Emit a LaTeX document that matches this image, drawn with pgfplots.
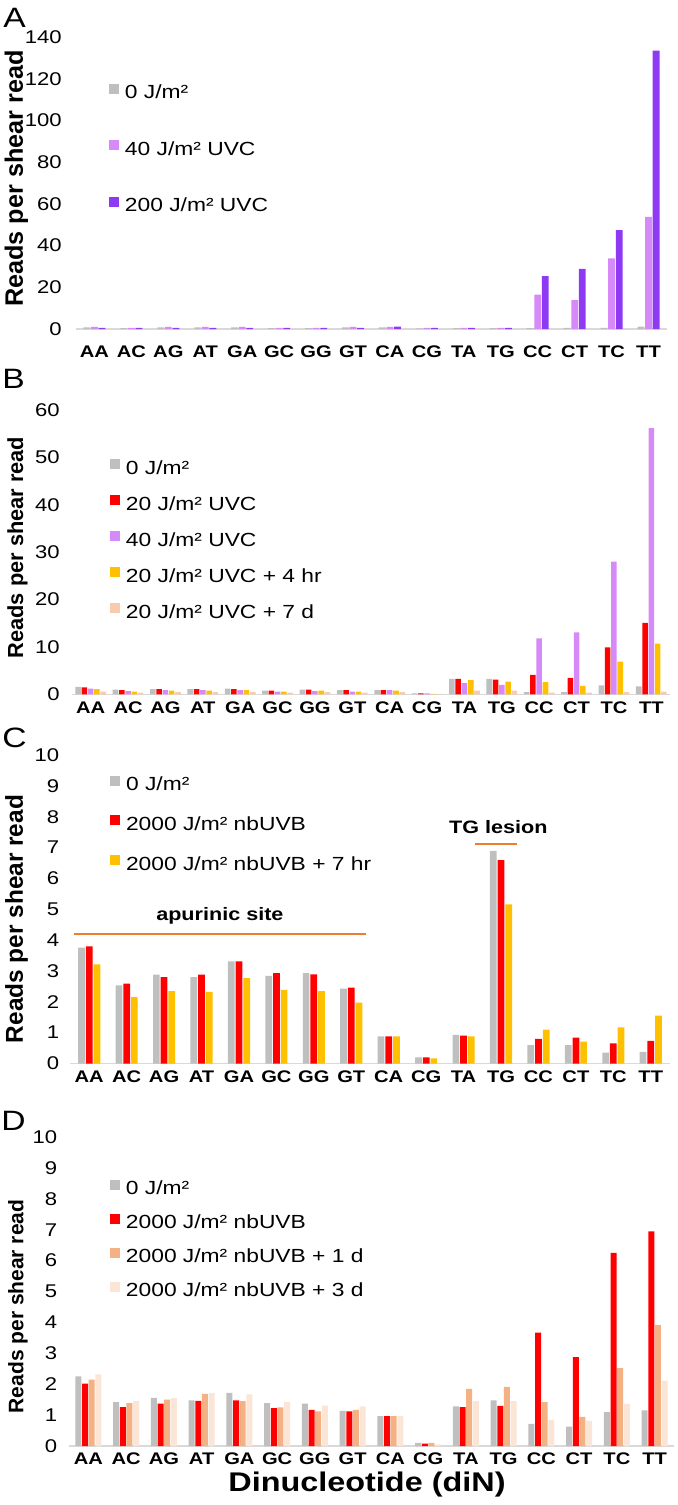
\documentclass[border=0pt]{standalone}
\usepackage{fontspec}
\setmainfont{Liberation Sans}[FakeStretch=1.2]
\newfontfamily\rotfont{Liberation Sans}
\usepackage{pgfplots}
\usepackage{pgfplotstable}
\pgfplotsset{compat=1.18}
\definecolor{cgray}{HTML}{BFBFBF}
\definecolor{clpur}{HTML}{D68AF8}
\definecolor{cdpur}{HTML}{8D3AF2}
\definecolor{cred}{HTML}{FF0000}
\definecolor{cgold}{HTML}{FFC000}
\definecolor{cpeach}{HTML}{F8CBAD}
\definecolor{corange}{HTML}{F4B183}
\definecolor{clight}{HTML}{FBE5D6}
\definecolor{cline}{HTML}{ED7D31}
\definecolor{caxis}{HTML}{D9D9D9}

\pgfplotstableread{
i g l d
0 0.8 1.0 0.6
1 0.4 0.5 0.6
2 0.8 1.0 0.6
3 0.8 1.0 0.6
4 0.8 1.0 0.6
5 0.4 0.5 0.6
6 0.4 0.5 0.6
7 0.8 1.0 0.6
8 0.8 1.0 1.2
9 0.3 0.5 0.6
10 0.4 0.5 0.6
11 0.4 0.5 0.6
12 0.4 16.5 25.4
13 0.5 13.9 28.8
14 0.5 33.9 47.4
15 1.2 53.8 133.5
}\dataA
\pgfplotstableread{
i g r p o s
0 1.6 1.5 1.2 1.1 0.6
1 1.0 0.9 0.7 0.6 0.4
2 1.1 1.1 0.9 0.8 0.5
3 1.1 1.1 0.9 0.8 0.5
4 1.2 1.1 0.9 0.9 0.5
5 0.8 0.8 0.6 0.6 0.4
6 1.0 1.0 0.7 0.8 0.5
7 0.9 0.9 0.6 0.6 0.4
8 0.9 0.9 0.9 0.8 0.5
9 0.2 0.2 0.2 0.1 0.1
10 3.3 3.3 2.4 3.0 0.8
11 3.3 3.1 2.0 2.7 0.8
12 0.5 4.1 11.8 2.6 0.4
13 0.5 3.5 13.1 1.8 0.4
14 1.9 9.9 28.0 6.9 0.5
15 1.7 15.1 56.2 10.7 0.6
}\dataB
\pgfplotstableread{
i g r o
0 3.76 3.80 3.21
1 2.53 2.59 2.15
2 2.88 2.80 2.35
3 2.80 2.88 2.32
4 3.31 3.31 2.77
5 2.84 2.93 2.39
6 2.93 2.89 2.35
7 2.43 2.46 1.97
8 0.88 0.88 0.88
9 0.20 0.20 0.17
10 0.93 0.90 0.88
11 6.89 6.59 5.16
12 0.60 0.80 1.10
13 0.60 0.84 0.71
14 0.35 0.65 1.17
15 0.38 0.73 1.55
}\dataC
\pgfplotstableread{
i g r o l
0 2.25 2.02 2.15 2.32
1 1.42 1.26 1.39 1.45
2 1.56 1.37 1.50 1.55
3 1.48 1.46 1.69 1.71
4 1.72 1.48 1.45 1.67
5 1.39 1.23 1.25 1.42
6 1.37 1.17 1.12 1.31
7 1.14 1.12 1.17 1.28
8 0.97 0.97 0.97 0.97
9 0.10 0.08 0.10 0.05
10 1.28 1.26 1.85 1.45
11 1.48 1.30 1.91 1.45
12 0.72 3.67 1.42 0.85
13 0.63 2.88 0.94 0.81
14 1.10 6.25 2.52 1.36
15 1.15 6.95 3.91 2.12
}\dataD

\pgfplotsset{
 sqlegend/.style={legend image code/.code={\fill[##1] (0pt,0pt) rectangle (5pt,5pt); \path (8pt,2.5pt);}},
 panel/.style={
  scale only axis, ybar, clip=false,
  axis line style={draw=none},
  major tick length=0pt,
  tick style={draw=none},
  xmin=-0.5, xmax=15.5, ymin=0,
  xtick={0,...,15},
  xticklabels={AA,AC,AG,AT,GA,GC,GG,GT,CA,CG,TA,TG,CC,CT,TC,TT},
  /pgf/number format/assume math mode=true,
  yticklabel style={font=\fontsize{9.2}{9.2}\selectfont, anchor=east, inner sep=0pt},
  xticklabel style={font=\fontsize{8.4}{8.4}\selectfont\bfseries, anchor=base, inner sep=0pt},
  ylabel={Reads per shear read},
  ylabel style={anchor=base},
  legend cell align=left,
  legend style={draw=none, fill=none, anchor=north west, font=\fontsize{9.5}{9.5}\selectfont,
     inner sep=0pt, outer sep=0pt, nodes={inner sep=0pt, text height=6.5pt, text depth=1.5pt}},
  every axis plot post/.append style={sqlegend},
 },
}

\begin{document}
\begin{tikzpicture}
\useasboundingbox (0,0) rectangle (338.5pt,-752.5pt);
% Panel letters
\node[anchor=base west, inner sep=0pt, font=\fontsize{14}{14}\selectfont] at (1.5pt,-13.5pt) {A};
\node[anchor=base west, inner sep=0pt, font=\fontsize{14}{14}\selectfont] at (1pt,-194pt) {B};
\node[anchor=base west, inner sep=0pt, font=\fontsize{14}{14}\selectfont] at (1pt,-373.5pt) {C};
\node[anchor=base west, inner sep=0pt, font=\fontsize{14}{14}\selectfont] at (0.5pt,-565pt) {D};

% Panel A
\begin{axis}[panel, at={(38pt,-164.5pt)}, anchor=south west,
  width=295.5pt, height=146pt, ymax=140, ytick={0,20,...,140},
  bar width=3.4pt, ybar=0.4pt,
  yticklabel style={xshift=-7pt},
  xticklabel style={yshift=-14.3pt},
  ylabel style={at={(rel axis cs:-0.0897,0.5154)}, font=\rotfont\bfseries\fontsize{12.6}{12.6}\selectfont},
  legend style={at={(rel axis cs:0.0558,0.840)}, row sep=19.25pt}]
\draw[caxis, line width=0.75pt] (rel axis cs:0,0) -- (rel axis cs:1,0);
\addplot[fill=cgray, draw=none] table[x=i,y=g] {\dataA};
\addplot[fill=clpur, draw=none] table[x=i,y=l] {\dataA};
\addplot[fill=cdpur, draw=none] table[x=i,y=d] {\dataA};
\legend{0 J/m², 40 J/m² UVC, 200 J/m² UVC}
\end{axis}

% Panel B
\begin{axis}[panel, at={(36pt,-347.2pt)}, anchor=south west,
  width=299pt, height=142.2pt, ymax=60, ytick={0,10,...,60},
  bar width=2.8pt, ybar=0.33pt,
  yticklabel style={xshift=-6pt},
  xticklabel style={yshift=-9.6pt},
  ylabel style={at={(rel axis cs:-0.0819,0.5165)}, font=\rotfont\bfseries\fontsize{10.9}{10.9}\selectfont},
  legend style={at={(rel axis cs:0.0635,0.8277)}, row sep=9.0pt}]
\draw[caxis, line width=0.75pt] (rel axis cs:0,0) -- (rel axis cs:1,0);
\addplot[fill=cgray, draw=none] table[x=i,y=g] {\dataB};
\addplot[fill=cred, draw=none] table[x=i,y=r] {\dataB};
\addplot[fill=clpur, draw=none] table[x=i,y=p] {\dataB};
\addplot[fill=cgold, draw=none] table[x=i,y=o] {\dataB};
\addplot[fill=cpeach, draw=none] table[x=i,y=s] {\dataB};
\legend{0 J/m², 20 J/m² UVC, 40 J/m² UVC, 20 J/m² UVC + 4 hr, 20 J/m² UVC + 7 d}
\end{axis}

% Panel C
\begin{axis}[panel, at={(35.25pt,-531.75pt)}, anchor=south west,
  width=299.5pt, height=154.25pt, ymax=10, ytick={0,1,...,10},
  bar width=3.35pt, ybar=0.5pt,
  yticklabel style={xshift=-5.5pt},
  xticklabel style={yshift=-9.55pt},
  ylabel style={at={(rel axis cs:-0.0793,0.4684)}, font=\rotfont\bfseries\fontsize{12.2}{12.2}\selectfont},
  legend style={at={(rel axis cs:0.066,0.9335)}, row sep=10.95pt}]
\draw[caxis, line width=0.75pt] (rel axis cs:0,0) -- (rel axis cs:1,0);
\addplot[fill=cgray, draw=none] table[x=i,y=g] {\dataC};
\addplot[fill=cred, draw=none] table[x=i,y=r] {\dataC};
\addplot[fill=cgold, draw=none] table[x=i,y=o] {\dataC};
\legend{0 J/m², 2000 J/m² nbUVB, 2000 J/m² nbUVB + 7 hr}
\draw[cline, line width=0.9pt] (axis cs:-0.41,4.2) -- (axis cs:7.39,4.2);
\node[font=\bfseries\fontsize{9}{9}\selectfont] at (axis cs:3.49,4.78) {apurinic site};
\draw[cline, line width=0.9pt] (axis cs:10.3,7.11) -- (axis cs:11.43,7.11);
\node[font=\bfseries\fontsize{9}{9}\selectfont] at (axis cs:10.93,7.67) {TG lesion};
\end{axis}

% Panel D
\begin{axis}[panel, at={(34.75pt,-723pt)}, anchor=south west,
  width=302pt, height=154.5pt, ymax=10, ytick={0,1,...,10},
  bar width=3pt, ybar=0.33pt,
  yticklabel style={xshift=-6pt},
  xticklabel style={yshift=-9.3pt},
  ylabel style={at={(rel axis cs:-0.0765,0.4515)}, font=\rotfont\bfseries\fontsize{10.5}{10.5}\selectfont},
  xlabel={Dinucleotide (diN)},
  xlabel style={at={(rel axis cs:0.4925,-0.1262)}, anchor=center, font=\bfseries\fontsize{13.5}{13.5}\selectfont},
  legend style={at={(rel axis cs:0.067,0.861)}, row sep=7.95pt}]
\draw[caxis, line width=0.75pt] (rel axis cs:0,0) -- (rel axis cs:1,0);
\addplot[fill=cgray, draw=none] table[x=i,y=g] {\dataD};
\addplot[fill=cred, draw=none] table[x=i,y=r] {\dataD};
\addplot[fill=corange, draw=none] table[x=i,y=o] {\dataD};
\addplot[fill=clight, draw=none] table[x=i,y=l] {\dataD};
\legend{0 J/m², 2000 J/m² nbUVB, 2000 J/m² nbUVB + 1 d, 2000 J/m² nbUVB + 3 d}
\end{axis}
\end{tikzpicture}
\end{document}
